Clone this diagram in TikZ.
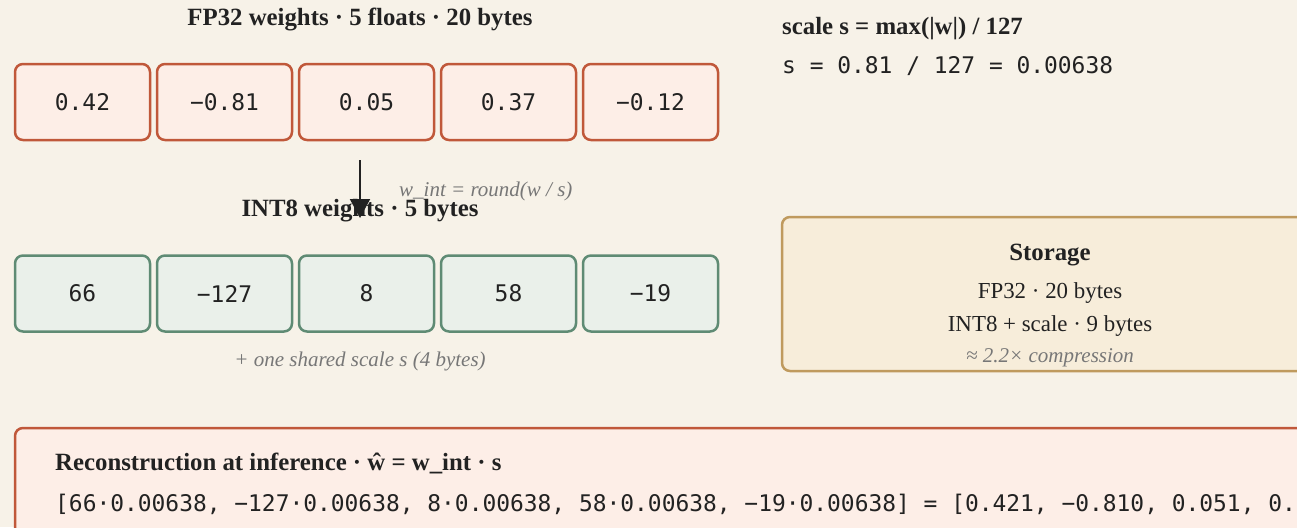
\documentclass[tikz,border=0pt]{standalone}
\usepackage{fontspec}
\setmainfont{Liberation Serif}
\setmonofont{DejaVu Sans Mono}
\usetikzlibrary{arrows.meta}
\definecolor{paper}{HTML}{F7F2E8}
\definecolor{rust}{HTML}{C0583A}
\definecolor{rustfill}{HTML}{FDEEE7}
\definecolor{sage}{HTML}{5F8B74}
\definecolor{sagefill}{HTML}{EAF0EA}
\definecolor{gold}{HTML}{BF9A5E}
\definecolor{goldfill}{HTML}{F7EDDA}
\definecolor{ink}{HTML}{222222}
\definecolor{muted}{HTML}{777777}
\tikzset{
  heading/.style={text=ink, inner sep=0pt, font=\fontsize{24.8}{28}\selectfont\bfseries},
  plain/.style={text=ink, inner sep=0pt, font=\fontsize{22.9}{26}\selectfont},
  note/.style={text=muted, inner sep=0pt, font=\fontsize{21}{24}\selectfont\itshape},
  code/.style={text=ink, inner sep=0pt, font=\fontsize{22.9}{26}\selectfont\ttfamily},
  cell/.style={draw, line width=2.5pt, rounded corners=8pt, minimum width=135pt,
    minimum height=76pt, inner sep=0pt, text=ink, font=\fontsize{22.9}{26}\selectfont\ttfamily},
  fpcell/.style={cell, draw=rust, fill=rustfill},
  intcell/.style={cell, draw=sage, fill=sagefill},
  panel/.style={line width=2.5pt, rounded corners=8pt},
}
\begin{document}
\begin{tikzpicture}[x=1pt, y=-1pt]
\useasboundingbox (0,0) rectangle (1297,527);
\fill[paper] (0,0) rectangle (1297,527);
\clip (0,0) rectangle (1297,527);

% FP32 row
\node[heading, anchor=base] (fptitle) at (360,26) {FP32 weights · 5 floats · 20 bytes};
\node[fpcell] (f1) at (82.5,102) {0.42};
\node[fpcell] (f2) at (224.5,102) {−0.81};
\node[fpcell] (f3) at (366.5,102) {0.05};
\node[fpcell] (f4) at (508.5,102) {0.37};
\node[fpcell] (f5) at (650.5,102) {−0.12};

% quantisation step
\node[note, anchor=base west] (rule) at (399,196.7) {w\_int = round(w / s)};
\node[heading, anchor=base] (inttitle) at (360,216.7) {INT8 weights · 5 bytes};
\coordinate (qstart) at (360,160);
\coordinate (qend) at (360,218);
\draw[ink, line width=2pt, -{Triangle[length=19pt,width=20pt]}] (qstart) -- (qend);

% INT8 row
\node[intcell] (i1) at (82.5,293.5) {66};
\node[intcell] (i2) at (224.5,293.5) {−127};
\node[intcell] (i3) at (366.5,293.5) {8};
\node[intcell] (i4) at (508.5,293.5) {58};
\node[intcell] (i5) at (650.5,293.5) {−19};
\node[note, anchor=base] (shared) at (360,366.7) {+ one shared scale s (4 bytes)};

% scale definition
\node[heading, anchor=base west] (scaledef) at (782,35) {scale s = max(|w|) / 127};
\node[code, anchor=base west] (scaleval) at (782,74) {s = 0.81 / 127 = 0.00638};

% storage summary
\draw[panel, draw=gold, fill=goldfill] (782,217) rectangle (1318,371);
\node[heading, anchor=base] (st0) at (1050,260) {Storage};
\node[plain, anchor=base] (st1) at (1050,298) {FP32 · 20 bytes};
\node[plain, anchor=base] (st2) at (1050,331.7) {INT8 + scale · 9 bytes};
\node[note, anchor=base] (st3) at (1050,362.7) {≈ 2.2× compression};

% reconstruction
\draw[panel, draw=rust, fill=rustfill] (15,428) rectangle (1420,580);
\node[heading, anchor=base west] (rectitle) at (55,470) {Reconstruction at inference · ŵ = w\_int · s};
\node[code, anchor=base west] (recval) at (55,511.7) {[66·0.00638, −127·0.00638, 8·0.00638, 58·0.00638, −19·0.00638] = [0.421, −0.810, 0.051, 0.370, −0.121]};
\end{tikzpicture}
\end{document}
